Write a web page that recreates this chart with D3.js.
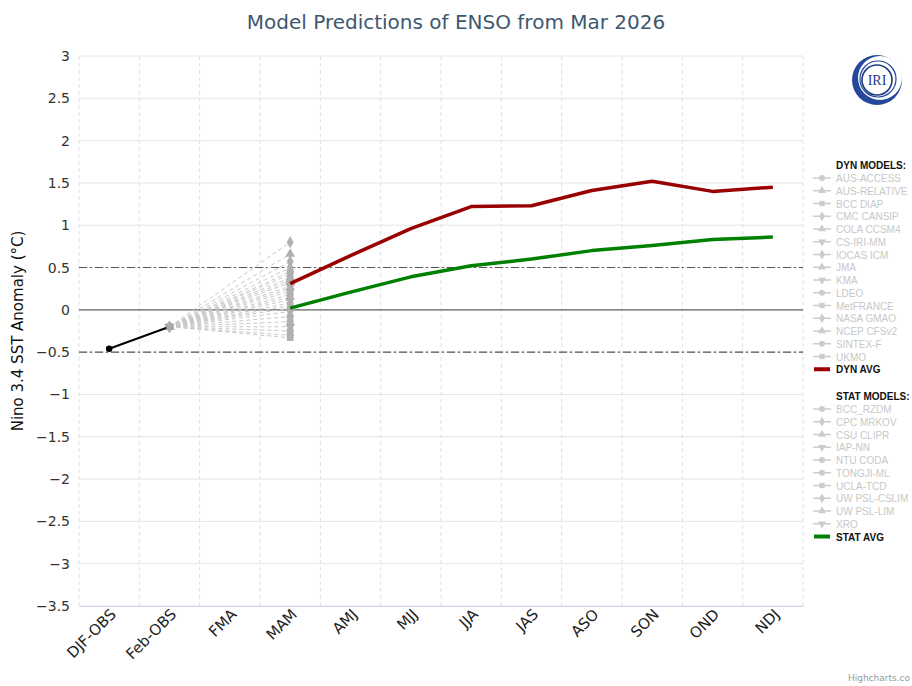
<!DOCTYPE html>
<html><head><meta charset="utf-8">
<script src="https://cdn.jsdelivr.net/npm/d3@7"></script>
<style>body{margin:0;background:#fff;} svg{display:block;font-family:"DejaVu Sans",sans-serif;}</style>
</head><body><div id="chart"></div>
<script>
const categories = ["DJF-OBS","Feb-OBS","FMA","MAM","AMJ","MJJ","JJA","JAS","ASO","SON","OND","NDJ"];
const yTicks = [3,2.5,2,1.5,1,0.5,0,-0.5,-1,-1.5,-2,-2.5,-3,-3.5];
const obsCats = ["DJF-OBS","Feb-OBS"];
const obsValues = [-0.46,-0.20];
const modelCats = ["Feb-OBS","MAM"];
const dynModels = ["AUS-ACCESS","AUS-RELATIVE","BCC DIAP","CMC CANSIP","COLA CCSM4","CS-IRI-MM","IOCAS ICM","JMA","KMA","LDEO","MetFRANCE","NASA GMAO","NCEP CFSv2","SINTEX-F","UKMO"];
const dynSymbols = ["circle","triangle","square","diamond","triangle","triangle-down","diamond","triangle","triangle-down","circle","square","diamond","triangle","circle","square"];
const dynStart = [-0.20,-0.20,-0.20,-0.20,-0.20,-0.20,-0.20,-0.20,-0.20,-0.20,-0.20,-0.20,-0.20,-0.20,-0.20];
const dynMAM = [0.45,0.66,0.05,0.80,0.38,0.28,0.57,0.35,0.22,-0.25,0.42,0.50,0.32,0.18,0.25];
const statModels = ["BCC_RZDM","CPC MRKOV","CSU CLIPR","IAP-NN","NTU CODA","TONGJI-ML","UCLA-TCD","UW PSL-CSLIM","UW PSL-LIM","XRO"];
const statSymbols = ["circle","diamond","triangle","triangle-down","circle","circle","square","diamond","triangle","triangle-down"];
const statStart = [-0.20,-0.20,-0.20,-0.20,-0.20,-0.20,-0.20,-0.20,-0.20,-0.20];
const statMAM = [-0.08,0.12,0.15,-0.02,-0.14,-0.30,-0.33,0.08,0.02,-0.20];
const avgCats = ["MAM","AMJ","MJJ","JJA","JAS","ASO","SON","OND","NDJ"];
const dynAvg = [0.31,0.64,0.96,1.22,1.23,1.41,1.52,1.40,1.45];
const statAvg = [0.02,0.21,0.39,0.52,0.60,0.70,0.76,0.83,0.86];

const W=912,H=686;
const margin={left:79,right:803,top:56,bottom:606};
const svg=d3.select("#chart").append("svg").attr("width",W).attr("height",H);

const x=d3.scaleBand().domain(categories).range([margin.left,margin.right]);
const xc=c=>x(c)+x.bandwidth()/2;
const y=d3.scaleLinear().domain([-3.5,3]).range([margin.bottom,margin.top]);

// title
svg.append("text").attr("x",456).attr("y",29).attr("text-anchor","middle")
  .attr("font-size",20).attr("fill","#3E576F").text("Model Predictions of ENSO from Mar 2026");

// horizontal grid
svg.append("g").selectAll("line").data(yTicks).join("line")
  .attr("x1",margin.left).attr("x2",margin.right)
  .attr("y1",d=>y(d)).attr("y2",d=>y(d)).attr("stroke","#e6e6e6").attr("stroke-width",1);
// vertical dashed grid at category boundaries
const bounds=categories.map(c=>x(c)).concat([margin.right]);
svg.append("g").selectAll("line").data(bounds).join("line")
  .attr("x1",d=>d).attr("x2",d=>d).attr("y1",margin.top).attr("y2",margin.bottom)
  .attr("stroke","#e0e0e0").attr("stroke-dasharray","4,3").attr("stroke-width",1);

// y axis
const yAxis=d3.axisLeft(y).tickValues(yTicks).tickSize(0).tickPadding(9)
  .tickFormat(d=>(d<0?"\u2212":"")+Math.abs(d));
const gy=svg.append("g").attr("transform",`translate(${margin.left},0)`).call(yAxis);
gy.select(".domain").remove();
gy.selectAll("text").attr("font-size",14).attr("fill","#333").attr("font-family","DejaVu Sans");

// x axis
const xAxis=d3.axisBottom(x).tickSize(0).tickPadding(10);
const gx=svg.append("g").attr("transform",`translate(0,${margin.bottom})`).call(xAxis);
gx.select(".domain").attr("stroke","#ccd6eb");
gx.selectAll("text").attr("font-size",15).attr("fill","#222").attr("font-family","DejaVu Sans")
  .attr("text-anchor","end").attr("dy",null).attr("y",15)
  .attr("transform","rotate(-45,0,10)").attr("x",6);

// y axis title
svg.append("text").attr("transform",`translate(23,${(margin.top+margin.bottom)/2}) rotate(-90)`)
  .attr("text-anchor","middle").attr("font-size",15).attr("fill","#111").text("Nino 3.4 SST Anomaly (\u00b0C)");

// reference lines
svg.append("line").attr("x1",margin.left).attr("x2",margin.right).attr("y1",y(0)).attr("y2",y(0))
  .attr("stroke","#666").attr("stroke-width",1.3);
[0.5,-0.5].forEach(v=>svg.append("line").attr("x1",margin.left).attr("x2",margin.right)
  .attr("y1",y(v)).attr("y2",y(v)).attr("stroke","#555").attr("stroke-width",1.1).attr("stroke-dasharray","8,3,2,3"));

const symMap={circle:d3.symbolCircle,diamond:d3.symbolDiamond,square:d3.symbolSquare,triangle:d3.symbolTriangle,"triangle-down":d3.symbolTriangle};
function sym(g,type,cx,cy,size,color){
  g.append("path").attr("d",d3.symbol().type(symMap[type]).size(size)())
   .attr("transform",`translate(${cx},${cy})`+(type==="triangle-down"?" rotate(180)":""))
   .attr("fill",color);
}
const line=d3.line().x(d=>xc(d[0])).y(d=>y(d[1]));

// model lines
const models=[];
dynModels.forEach((n,i)=>models.push({vals:[dynStart[i],dynMAM[i]],s:dynSymbols[i]}));
statModels.forEach((n,i)=>models.push({vals:[statStart[i],statMAM[i]],s:statSymbols[i]}));
const gm=svg.append("g");
models.forEach(m=>{
  gm.append("path").attr("d",line(modelCats.map((c,i)=>[c,m.vals[i]])))
    .attr("fill","none").attr("stroke","#c8c8c8").attr("stroke-width",1).attr("stroke-dasharray","4,3");
});
models.forEach(m=>{
  modelCats.forEach((c,i)=>sym(gm,m.s,xc(c),y(m.vals[i]),42,"#b0b0b0"));
});

// observed
svg.append("path").attr("d",line(obsCats.map((c,i)=>[c,obsValues[i]])))
  .attr("fill","none").attr("stroke","#000").attr("stroke-width",2);
sym(svg,"circle",xc(obsCats[0]),y(obsValues[0]),34,"#000");
sym(svg,"square",xc(obsCats[1]),y(obsValues[1]),40,"#aaa");

// averages
svg.append("path").attr("d",line(avgCats.map((c,i)=>[c,dynAvg[i]])))
  .attr("fill","none").attr("stroke","#990000").attr("stroke-width",3.5).attr("stroke-linejoin","round");
svg.append("path").attr("d",line(avgCats.map((c,i)=>[c,statAvg[i]])))
  .attr("fill","none").attr("stroke","#008000").attr("stroke-width",3.5).attr("stroke-linejoin","round");

// legend
const lg=svg.append("g").attr("font-size",10).attr("font-family","Liberation Sans");
const lx=813, tx=836, step=12.75;
function header(t,yy){lg.append("text").attr("x",tx).attr("y",yy+4).attr("font-weight","bold").attr("fill","#111").text(t);}
function item(t,s,yy){
  lg.append("line").attr("x1",lx).attr("x2",lx+18).attr("y1",yy).attr("y2",yy).attr("stroke","#ccc").attr("stroke-width",1.5);
  sym(lg,s,lx+9,yy,28,"#ccc");
  lg.append("text").attr("x",tx).attr("y",yy+4).attr("fill","#c8c8c8").text(t);
}
function avgItem(t,c,yy){
  lg.append("line").attr("x1",lx+1).attr("x2",lx+17).attr("y1",yy).attr("y2",yy).attr("stroke",c).attr("stroke-width",4);
  lg.append("text").attr("x",tx).attr("y",yy+4).attr("font-weight","bold").attr("fill","#111").text(t);
}
header("DYN MODELS:",165);
dynModels.forEach((n,i)=>item(n,dynSymbols[i],178+i*step));
avgItem("DYN AVG","#990000",178+15*step);
header("STAT MODELS:",396);
statModels.forEach((n,i)=>item(n,statSymbols[i],409+i*step));
avgItem("STAT AVG","#008000",409+10*step);

// logo
const logo=svg.append("g").attr("transform","translate(877,80)");
logo.append("circle").attr("r",25).attr("fill","#25479a");
logo.append("circle").attr("cx",3).attr("cy",-2).attr("r",22).attr("fill","#fff");
logo.append("circle").attr("cx",1).attr("cy",-1).attr("r",18).attr("fill","none").attr("stroke","#25479a").attr("stroke-width",1.2);
logo.append("circle").attr("r",15).attr("fill","#fff").attr("stroke","#1c3a85").attr("stroke-width",1.6);
logo.append("text").attr("y",5).attr("text-anchor","middle").attr("font-family","Liberation Serif,serif")
  .attr("font-size",14).attr("fill","#1c3a85").text("IRI");

// credits
svg.append("text").attr("x",910).attr("y",681).attr("text-anchor","end").attr("font-size",9).attr("fill","#999")
  .text("Highcharts.co");
</script></body></html>
